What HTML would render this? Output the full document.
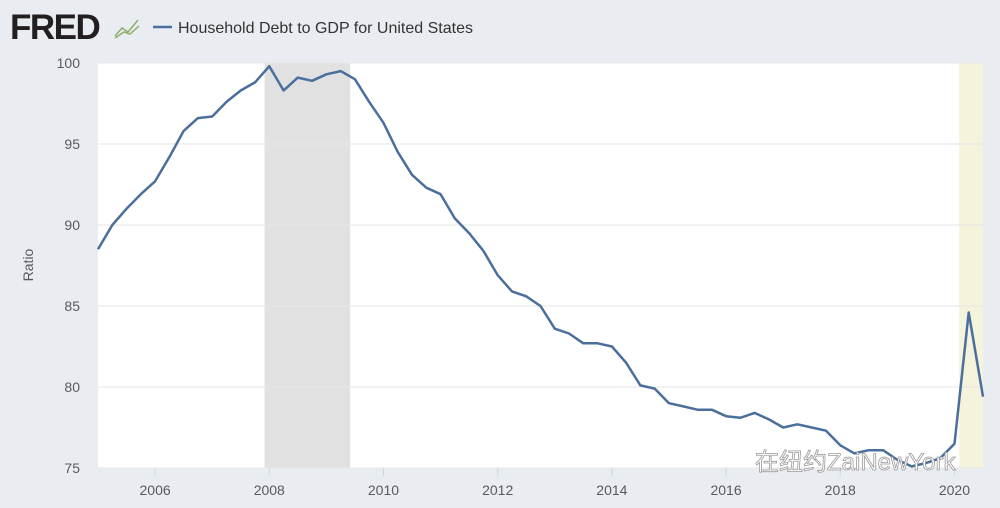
<!DOCTYPE html>
<html><head><meta charset="utf-8"><style>
body{margin:0;background:#e9edf2;font-family:"Liberation Sans","Noto Sans CJK SC",sans-serif;}
#wrap{position:relative;width:1000px;height:508px;overflow:hidden;background:#e9edf2;}
</style></head><body>
<div id="wrap">
<svg id="chart" width="1000" height="508"></svg>
</div>
<script>
const quarters=[2005,2005.25,2005.5,2005.75,2006,2006.25,2006.5,2006.75,2007,2007.25,2007.5,2007.75,2008,2008.25,2008.5,2008.75,2009,2009.25,2009.5,2009.75,2010,2010.25,2010.5,2010.75,2011,2011.25,2011.5,2011.75,2012,2012.25,2012.5,2012.75,2013,2013.25,2013.5,2013.75,2014,2014.25,2014.5,2014.75,2015,2015.25,2015.5,2015.75,2016,2016.25,2016.5,2016.75,2017,2017.25,2017.5,2017.75,2018,2018.25,2018.5,2018.75,2019,2019.25,2019.5,2019.75,2020,2020.25,2020.5];
const ratio=[88.5,90.0,91.0,91.9,92.7,94.2,95.8,96.6,96.7,97.6,98.3,98.8,99.8,98.3,99.1,98.9,99.3,99.5,99.0,97.6,96.3,94.5,93.1,92.3,91.9,90.4,89.5,88.4,86.9,85.9,85.6,85.0,83.6,83.3,82.7,82.7,82.5,81.5,80.1,79.9,79.0,78.8,78.6,78.6,78.2,78.1,78.4,78.0,77.5,77.7,77.5,77.3,76.4,75.9,76.1,76.1,75.5,75.1,75.3,75.6,76.5,84.6,79.4];
const yTicks=[75,80,85,90,95,100];
const xTicks=[2006,2008,2010,2012,2014,2016,2018,2020];
const recessionStart=[2007.917,2020.083];
const recessionEnd=[2009.417,2020.5];
const NS="http://www.w3.org/2000/svg";
const svg=document.getElementById('chart');
const L=98,R=983,T=63,B=468;
const x=t=>L+(t-2005)*(R-L)/15.5;
const y=v=>T+(100-v)*(B-T)/25;
function mk(tag,attrs,parent){const e=document.createElementNS(NS,tag);for(const k in attrs)e.setAttribute(k,attrs[k]);(parent||svg).appendChild(e);return e;}
const bg=mk('rect',{x:L,y:T,width:R-L,height:B-T,fill:'#ffffff'});


recessionStart.forEach((s,i)=>{
 const r=mk('rect',{x:x(s),y:T,width:x(recessionEnd[i])-x(s),height:B-T,fill:i==0?'#e1e1e1':'#f5f3dc'});
 
 
});
yTicks.forEach(v=>{
 const g=mk('line',{x1:L,x2:R,y1:y(v),y2:y(v),stroke:'#e6e6e6','stroke-width':1});
 
 
 const t=mk('text',{x:80,y:y(v)+5,'text-anchor':'end','font-size':14,fill:'#595959'});
 t.textContent=v;
 
 
});
xTicks.forEach(v=>{
 const tk=mk('line',{x1:x(v),x2:x(v),y1:B,y2:B+8,stroke:'#ccd6eb'});
 
 
 const t=mk('text',{x:x(v),y:495,'text-anchor':'middle','font-size':14,fill:'#595959'});
 t.textContent=v;
 
 
});
const yt=mk('text',{x:33,y:265,'text-anchor':'middle','font-size':14,fill:'#595959',transform:'rotate(-90 33 265)'});
yt.textContent='Ratio';


const line=mk('path',{d:quarters.map((q,i)=>(i?'L':'M')+x(q).toFixed(1)+','+y(ratio[i]).toFixed(1)).join(''),fill:'none',stroke:'#4a6f9c','stroke-width':2.5,'stroke-linejoin':'round'});


const logo=mk('text',{x:10,y:39,'font-size':35,'font-weight':'bold',fill:'#231f20','letter-spacing':'-1.5'});
logo.textContent='FRED';


const ic=mk('path',{d:'M115 36 L122 28 L128 32 L138 20 M115 38 L124 32 L130 34 L139 26',fill:'none',stroke:'#8fae6e','stroke-width':1.5});


const lg=mk('line',{x1:153,x2:172,y1:27,y2:27,stroke:'#4a6f9c','stroke-width':2.5});


const lt=mk('text',{x:178,y:33,'font-size':16,fill:'#333'});
lt.textContent='Household Debt to GDP for United States';


const wm=mk('text',{x:755,y:470,'font-size':24,fill:'#ffffff',stroke:'#9a9a9a','stroke-width':0.8,'font-family':'"Liberation Sans","Noto Sans CJK SC",sans-serif'});
wm.textContent='在纽约ZaiNewYork';


</script>
</body></html>
